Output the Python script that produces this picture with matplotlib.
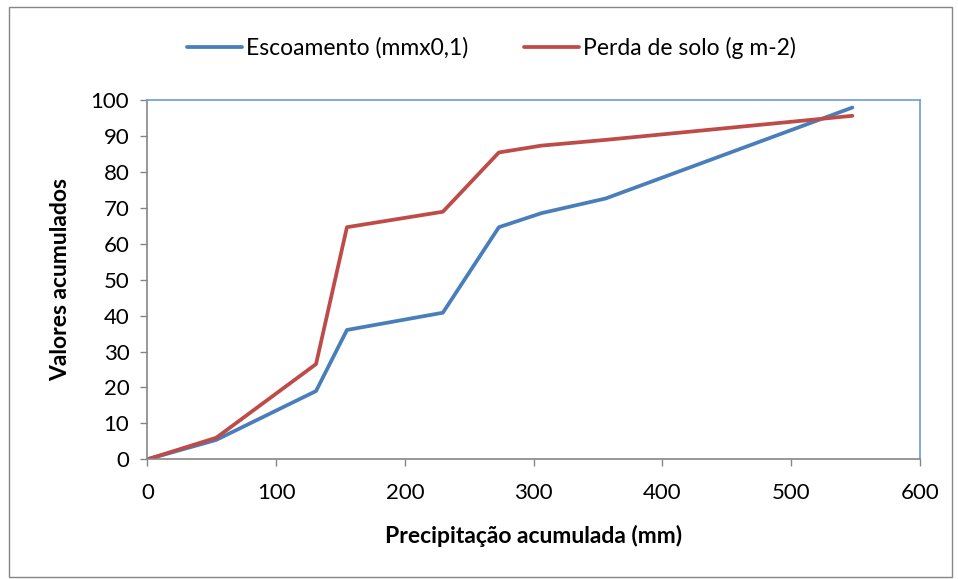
import matplotlib.pyplot as plt
from matplotlib.patches import Rectangle

# cumulative rainfall (mm) at each point
precip = [0, 53.5, 131, 155, 229.5, 273, 306, 356, 547.5]
escoamento = [0, 5.4, 19.0, 36.0, 40.8, 64.6, 68.5, 72.6, 97.9]
perda_solo = [0, 6.0, 26.5, 64.6, 68.9, 85.4, 87.3, 88.9, 95.6]

labels = ["Escoamento (mmx0,1)", "Perda de solo (g m-2)"]
x_ticks = [0, 100, 200, 300, 400, 500, 600]
y_ticks = list(range(0, 101, 10))

BLUE = "#4A7EBB"
RED = "#BE4B48"
GRAY = "#868686"

plt.rcParams["font.family"] = ["Lato", "DejaVu Sans"]

fig = plt.figure(figsize=(9.58, 5.79), dpi=100)
ax = fig.add_axes([0.1538, 0.2067, 0.8065, 0.6206])

ax.plot(precip, escoamento, color=BLUE, lw=2.7, label=labels[0], solid_capstyle="round")
ax.plot(precip, perda_solo, color=RED, lw=2.7, label=labels[1], solid_capstyle="round")

ax.set_xlim(0, 600)
ax.set_ylim(0, 100)
ax.set_xticks(x_ticks)
ax.set_yticks(y_ticks)
ax.tick_params(axis="both", direction="out", length=5, width=1, color=GRAY,
               labelsize=16)
ax.tick_params(axis="x", pad=12)
ax.tick_params(axis="y", pad=8)

for side in ["left", "bottom"]:
    ax.spines[side].set_color(GRAY)
    ax.spines[side].set_linewidth(1.2)
for side in ["top", "right"]:
    ax.spines[side].set_color("#6F9BD0")
    ax.spines[side].set_linewidth(1.2)

ax.set_xlabel("Precipitação acumulada (mm)", fontsize=16.5, fontweight="bold", labelpad=16)
ax.set_ylabel("Valores acumulados", fontsize=16.5, fontweight="bold", labelpad=14)

fig.legend(loc="center", bbox_to_anchor=(0.513, 0.918), ncol=2, frameon=False,
           fontsize=16.5, handlelength=2.4, handletextpad=0.2, columnspacing=2.4)

# outer chart border
fig.patches.append(Rectangle((0.009, 0.003), 0.985, 0.985, transform=fig.transFigure,
                             fill=False, edgecolor=GRAY, lw=1))

fig.savefig("out.png", dpi=100)
